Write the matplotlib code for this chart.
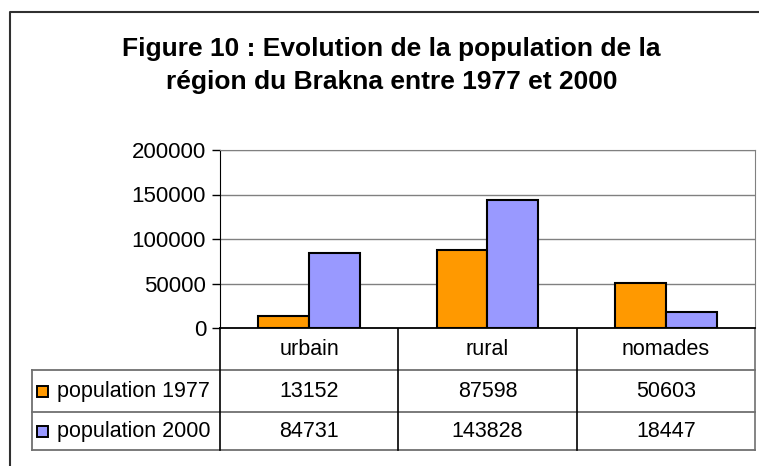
import matplotlib.pyplot as plt
import matplotlib.transforms as mtransforms
from matplotlib.patches import Rectangle
import numpy as np

plt.rcParams['font.family'] = ['Liberation Sans', 'DejaVu Sans']

# ---- data ----
categories = ['urbain', 'rural', 'nomades']
series_names = ['population 1977', 'population 2000']
pop_1977 = [13152, 87598, 50603]
pop_2000 = [84731, 143828, 18447]
yticks = [0, 50000, 100000, 150000, 200000]
title = 'Figure 10 : Evolution de la population de la\nrégion du Brakna entre 1977 et 2000'

colors = ['#FF9900', '#9999FF']
W, H = 759, 466

fig = plt.figure(figsize=(W / 100, H / 100), dpi=100)

def fx(px):
    return px / W

def fy(py):
    return 1 - py / H

# overlay in pixel coords for frame + table
ov = fig.add_axes([0, 0, 1, 1])
ov.set_xlim(0, W)
ov.set_ylim(H, 0)
ov.axis('off')

# plot area
ax = fig.add_axes([fx(220), fy(328), fx(755) - fx(220), fy(150) - fy(328)])
x = np.arange(len(categories))
w = 0.285
series = [pop_1977, pop_2000]
for i, vals in enumerate(series):
    ax.bar(x + (i - 0.5) * w, vals, w, color=colors[i], edgecolor='black',
           linewidth=1.5, zorder=3)
ax.set_xlim(-0.5, len(categories) - 0.5)
ax.set_ylim(0, 200000)
ax.set_yticks(yticks)
ax.set_yticklabels([str(t) for t in yticks], fontsize=16)
ax.set_xticks([])
for t in yticks[1:]:
    ax.axhline(t, color='#808080', lw=1, zorder=1)
ax.tick_params(axis='y', length=6, width=1, color='black', pad=4)
ax.spines['left'].set_color('black')
ax.spines['bottom'].set_color('black')
ax.spines['bottom'].set_linewidth(1.3)
ax.spines['top'].set_color('#808080')
ax.spines['right'].set_color('#808080')

# title
fig.text(fx(391.5), fy(65.5), title, ha='center', va='center', fontsize=19,
         fontweight='bold', linespacing=1.47)

# outer chart frame
ov.plot([10, 10, W], [H, 12, 12], color='#303030', lw=1.5)

# data table, columns follow the bar axis categories
tr = mtransforms.blended_transform_factory(ax.transData, ov.transData)
edges = np.arange(len(categories) + 1) - 0.5
row_y = [328, 369.5, 411.5, 450]
table_left = 32
x_right = ax.transData.transform((edges[-1], 0))[0]
inv = ov.transData.inverted()
right_px = inv.transform((x_right, 0))[0]
for yy in row_y[1:]:
    ov.plot([table_left, right_px], [yy, yy], color='#707070', lw=1.3)
ov.plot([table_left, table_left], [row_y[1], row_y[-1]], color='#707070', lw=1.3)
for k, e in enumerate(edges):
    col = '#707070' if k == len(edges) - 1 else 'black'
    ov.plot([e, e], [row_y[0], row_y[-1]], color=col, lw=1.2, transform=tr)

for i, c in enumerate(categories):
    ov.text(i, (row_y[0] + row_y[1]) / 2 + 1, c, ha='center', va='center',
            fontsize=15.5, transform=tr)
for r, vals in enumerate(series):
    yc = (row_y[r + 1] + row_y[r + 2]) / 2 + 1
    for i, v in enumerate(vals):
        ov.text(i, yc, str(v), ha='center', va='center', fontsize=15.5, transform=tr)
    ov.add_patch(Rectangle((37, yc - 5.5), 10.5, 10.5, facecolor=colors[r],
                           edgecolor='black', lw=1.4))
    ov.text(57, yc, series_names[r], ha='left', va='center', fontsize=15.5)

fig.savefig('out.png', dpi=100)
